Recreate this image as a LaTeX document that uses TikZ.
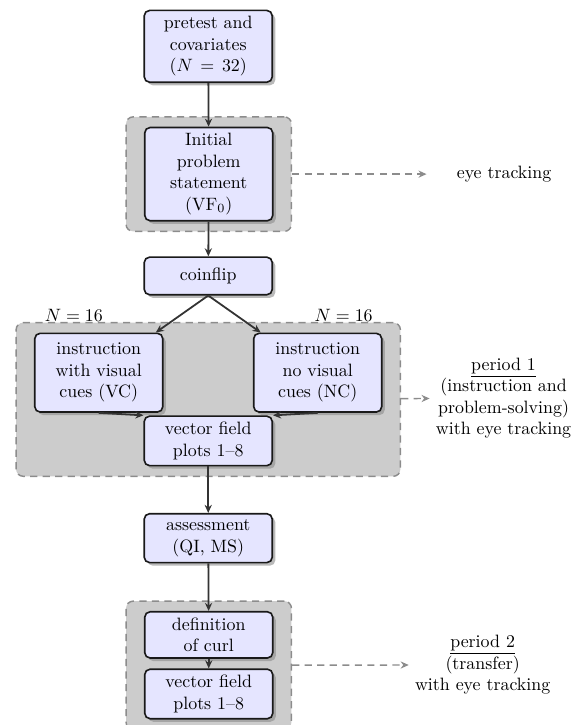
\documentclass[tikz,border=0pt]{standalone}
\usetikzlibrary{shadows,fit,backgrounds,arrows.meta}
\tikzset{
  box/.style={draw=black!90, line width=0.9pt, rounded corners=3pt, fill=blue!10,
    text width=2.28cm, align=center,
    drop shadow={shadow xshift=0.4ex, shadow yshift=-0.4ex, fill=black!45, opacity=0.6}},
  area/.style={draw=black!45, dash pattern=on 4pt off 3pt, thick, rounded corners=4pt, fill=black!20,
    inner xsep=10pt, inner ysep=5.5pt},
  flow/.style={-{Stealth[length=4.5pt,width=4pt]}, draw=black!80, line width=1pt},
  side/.style={-{Stealth[length=4.5pt,width=4pt]}, draw=black!45, dash pattern=on 4pt off 3pt, thick},
  note/.style={align=center}
}
\begin{document}
\begin{tikzpicture}
    \useasboundingbox (0,0) rectangle (11.37,-14.24);
    % Draw the boxes of the main column
    \node[box] (pre) at (4.09,-0.91) {pretest and\\covariates\\($N=32$)};
    \node[box] (init) at (4.1,-3.42) {Initial\\problem\\statement\\(VF$_0$)};
    \node[box, minimum height=21pt] (coin) at (4.09,-5.42) {coinflip};
    \node[box, minimum height=44pt] (vc) at (1.94,-7.32) {instruction\\with visual\\cues (VC)};
    \node[box, minimum height=44pt] (nc) at (6.24,-7.32) {instruction\\no visual\\cues (NC)};
    \node[box] (vf) at (4.09,-8.66) {vector field\\plots 1--8};
    \node[box] (assess) at (4.09,-10.57) {assessment\\(QI, MS)};
    \node[box] (def) at (4.1,-12.47) {definition\\of curl};
    \node[box] (vf2) at (4.1,-13.63) {vector field\\plots 1--8};
    % Add the group sizes
    \node (nl) at (1.45,-6.19) {$N=16$};
    \node (nr) at (6.75,-6.19) {$N=16$};
    % Draw the shaded areas behind the boxes
    \begin{scope}[on background layer]
        \node[area, fit=(init)] (g1) {};
        \node[area, fit=(vc)(nc)(vf)] (g2) {};
        \node[area, fit=(def)(vf2)] (g3) {};
    \end{scope}
    % Add the notes on the right
    \node[note, minimum width=3.03cm] (eye) at (9.9,-3.42) {eye tracking};
    \node[note] (per1) at (9.89,-7.82) {\underline{period 1}\\(instruction and\\problem-solving)\\with eye tracking};
    \node[note] (per2) at (9.48,-13.06) {\underline{period 2}\\(transfer)\\with eye tracking};
    % Draw the arrows
    \draw[flow] (pre) -- (init);
    \draw[flow] (init) -- (coin);
    \draw[flow] (coin.south) -- (vc);
    \draw[flow] (coin.south) -- (nc);
    \draw[flow] (vc.south) -- (vf.north west);
    \draw[flow] (nc.south) -- (vf.north east);
    \draw[flow] (vf) -- (assess);
    \draw[flow] (assess) -- (def);
    \draw[flow] (def) -- (vf2);
    \draw[side] (g1) -- (eye);
    \draw[side] (g2) -- (per1);
    \draw[side] (g3) -- (per2);
\end{tikzpicture}
\end{document}
